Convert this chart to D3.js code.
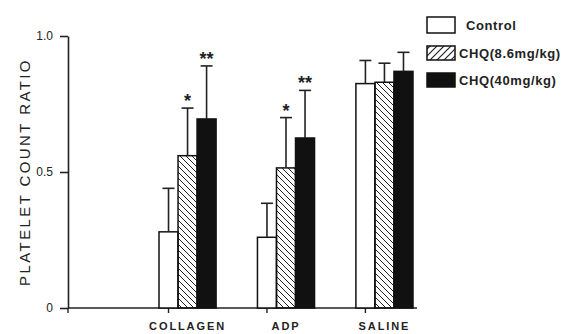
<!DOCTYPE html>
<html>
<head>
<meta charset="utf-8">
<script src="https://cdn.jsdelivr.net/npm/d3@7"></script>
<style>
	body { margin: 0; background: #fff; }
	svg { display: block; font-family: 'Liberation Sans', Arial, sans-serif; }
</style>
</head>
<body>
<div class="chart"></div>
<script>
const width = 564,
	height = 334

// values
const categories = ['COLLAGEN', 'ADP', 'SALINE']
const series = ['Control', 'CHQ(8.6mg/kg)', 'CHQ(40mg/kg)']
const controlMean = [0.28, 0.26, 0.825]
const controlTop = [0.44, 0.385, 0.91]
const lowMean = [0.56, 0.515, 0.83]
const lowTop = [0.735, 0.70, 0.90]
const highMean = [0.695, 0.625, 0.87]
const highTop = [0.89, 0.80, 0.94]
const lowStars = ['*', '*', '']
const highStars = ['**', '**', '']
const yTicks = [0, 0.5, 1.0]
const yTickLabels = ['0', '0.5', '1.0']

const means = [controlMean, lowMean, highMean]
const tops = [controlTop, lowTop, highTop]
const stars = [[], lowStars, highStars]

const data = []
categories.forEach((c, i) => {
	series.forEach((s, j) => {
		data.push({
			cat: c,
			series: s,
			value: means[j][i],
			top: tops[j][i],
			star: stars[j][i] || ''
		})
	})
})

const svg = d3
	.select('.chart')
	.append('svg')
	.attr('width', width)
	.attr('height', height)

const defs = svg.append('defs')
// hatch for bars: "\" direction
defs
	.append('pattern')
	.attr('id', 'hatch')
	.attr('patternUnits', 'userSpaceOnUse')
	.attr('width', 6)
	.attr('height', 6)
	.append('path')
	.attr('d', 'M-1.5,-1.5 L7.5,7.5 M-1.5,4.5 L1.5,7.5 M4.5,-1.5 L7.5,1.5')
	.attr('stroke', '#222')
	.attr('stroke-width', 1)
// hatch for legend: "/" direction
defs
	.append('pattern')
	.attr('id', 'hatch2')
	.attr('patternUnits', 'userSpaceOnUse')
	.attr('width', 7)
	.attr('height', 7)
	.append('path')
	.attr('d', 'M-1.5,8.5 L8.5,-1.5 M-1.5,1.5 L1.5,-1.5 M5.5,8.5 L8.5,5.5')
	.attr('stroke', '#222')
	.attr('stroke-width', 1.2)

const fills = {
	Control: '#fff',
	'CHQ(8.6mg/kg)': 'url(#hatch)',
	'CHQ(40mg/kg)': '#111'
}

// scales
const y = d3.scaleLinear().domain([0, 1]).range([308, 36])

const x0 = d3
	.scaleBand()
	.domain(categories)
	.range([159, 413])
	.paddingInner(0.42)
	.paddingOuter(0)

const x1 = d3
	.scaleBand()
	.domain(series)
	.range([0, x0.bandwidth()])
	.padding(0)

const axisLeft = 68,
	axisRight = 417

// y axis
const yAxis = svg
	.append('g')
	.attr('transform', `translate(${axisLeft},0)`)
	.call(
		d3
			.axisLeft(y)
			.tickValues(yTicks)
			.tickFormat((d, i) => yTickLabels[i])
			.tickSize(8)
			.tickPadding(7)
			.tickSizeOuter(0)
	)
yAxis.select('.domain').attr('stroke', '#222').attr('stroke-width', 1.6)
yAxis.selectAll('.tick line').attr('stroke', '#222').attr('stroke-width', 1.6)
yAxis
	.selectAll('.tick text')
	.attr('fill', '#222')
	.style('font-size', '12px')
	.style('font-family', "'Liberation Sans', Arial, sans-serif")

// y label
svg
	.append('text')
	.attr('transform', 'rotate(-90)')
	.attr('x', -172)
	.attr('y', 30)
	.attr('text-anchor', 'middle')
	.style('font-size', '15px')
	.style('letter-spacing', '2.4px')
	.attr('fill', '#222')
	.text('PLATELET COUNT RATIO')

// x axis line
svg
	.append('line')
	.attr('x1', axisLeft)
	.attr('x2', axisRight)
	.attr('y1', y(0))
	.attr('y2', y(0))
	.attr('stroke', '#222')
	.attr('stroke-width', 1.6)

// x ticks: origin and under each control bar
const tickXs = [axisLeft].concat(
	categories.map(c => x0(c) + x1('Control') + x1.bandwidth() / 2)
)
svg
	.selectAll('.xtick')
	.data(tickXs)
	.enter()
	.append('line')
	.attr('class', 'xtick')
	.attr('x1', d => d)
	.attr('x2', d => d)
	.attr('y1', y(0))
	.attr('y2', y(0) + 5)
	.attr('stroke', '#222')
	.attr('stroke-width', 1.4)

// category labels
svg
	.selectAll('.cat')
	.data(categories)
	.enter()
	.append('text')
	.attr('class', 'cat')
	.attr('x', d => x0(d) + x0.bandwidth() / 2)
	.attr('y', 330)
	.attr('text-anchor', 'middle')
	.style('font-size', '11px')
	.style('font-weight', 'bold')
	.style('letter-spacing', '1.9px')
	.attr('fill', '#222')
	.text(d => d)

// bars
const bars = svg.append('g')
bars
	.selectAll('rect')
	.data(data)
	.enter()
	.append('rect')
	.attr('x', d => x0(d.cat) + x1(d.series))
	.attr('y', d => y(d.value))
	.attr('width', x1.bandwidth())
	.attr('height', d => y(0) - y(d.value))
	.attr('fill', d => fills[d.series])
	.attr('stroke', '#111')
	.attr('stroke-width', 1.5)

// error bars (upper only)
const cx = d => x0(d.cat) + x1(d.series) + x1.bandwidth() / 2
const err = svg.append('g').attr('stroke', '#222').attr('stroke-width', 1.6)
err
	.selectAll('.ev')
	.data(data)
	.enter()
	.append('line')
	.attr('x1', cx)
	.attr('x2', cx)
	.attr('y1', d => y(d.value))
	.attr('y2', d => y(d.top))
err
	.selectAll('.cap')
	.data(data)
	.enter()
	.append('line')
	.attr('x1', d => cx(d) - 6)
	.attr('x2', d => cx(d) + 6)
	.attr('y1', d => y(d.top))
	.attr('y2', d => y(d.top))

// significance stars
svg
	.selectAll('.star')
	.data(data.filter(d => d.star))
	.enter()
	.append('text')
	.attr('x', cx)
	.attr('y', d => y(d.top) - 1)
	.attr('text-anchor', 'middle')
	.style('font-size', '18px')
	.style('font-weight', 'bold')
	.attr('fill', '#222')
	.text(d => d.star)

// legend
const legendFills = ['#fff', 'url(#hatch2)', '#111']
const legendY = [17, 46, 73]
const legendH = [16, 14, 14]
const legend = svg
	.selectAll('.legend')
	.data(series)
	.enter()
	.append('g')
	.attr('class', 'legend')
legend
	.append('rect')
	.attr('x', 427)
	.attr('y', (d, i) => legendY[i])
	.attr('width', 28)
	.attr('height', (d, i) => legendH[i])
	.attr('fill', (d, i) => legendFills[i])
	.attr('stroke', '#111')
	.attr('stroke-width', 1.5)
legend
	.append('text')
	.attr('x', (d, i) => (i === 0 ? 466 : 459))
	.attr('y', (d, i) => legendY[i] + legendH[i] / 2 + 4.5)
	.style('font-size', '13px')
	.style('font-weight', 'bold')
	.style('letter-spacing', '0.6px')
	.attr('fill', '#222')
	.text(d => d)
</script>
</body>
</html>
